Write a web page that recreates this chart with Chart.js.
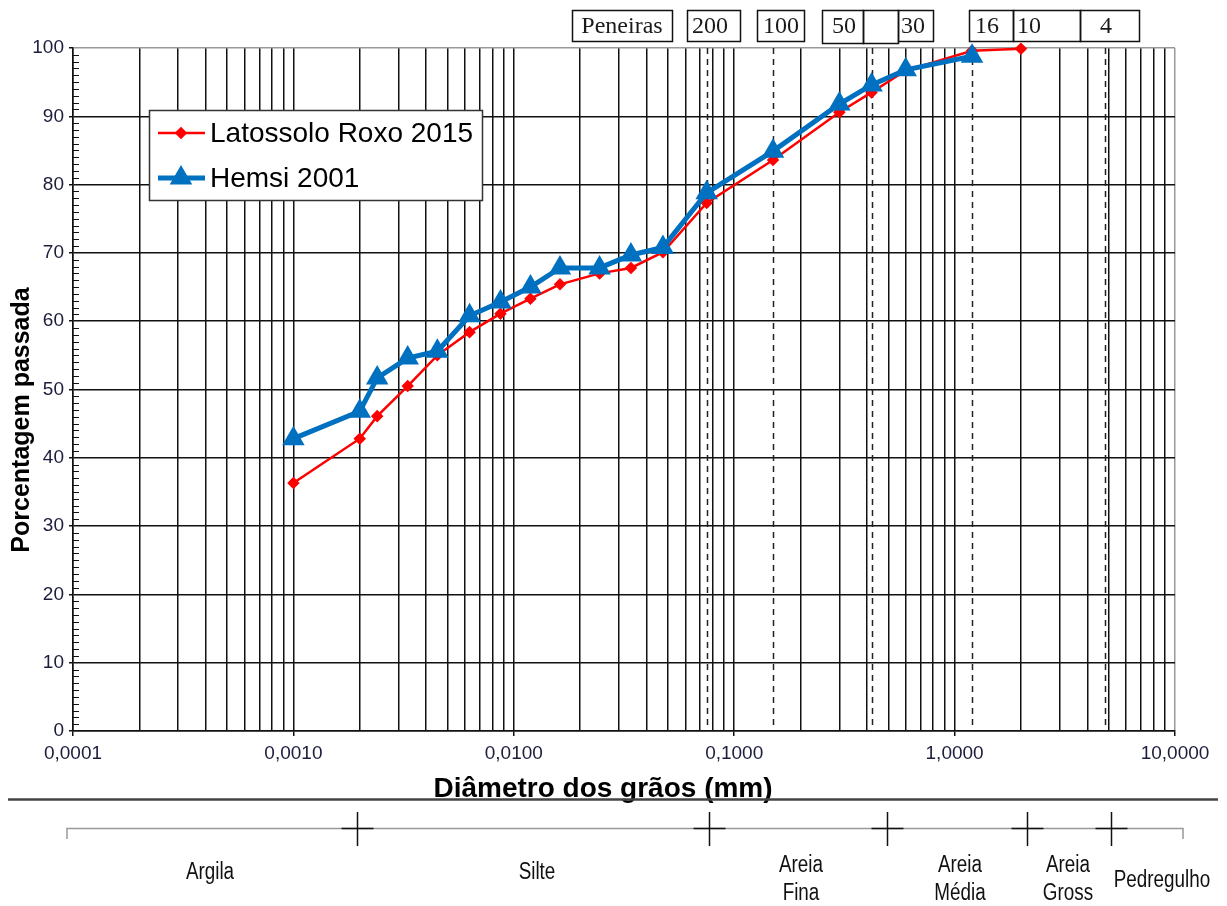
<!DOCTYPE html>
<html>
<head>
<meta charset="utf-8">
<title>Curva granulométrica</title>
<script src="https://cdn.jsdelivr.net/npm/chart.js@4.4.1/dist/chart.umd.min.js"></script>
<style>
  html, body { margin: 0; padding: 0; background: #fff; }
  #wrap { width: 1227px; height: 906px; }
</style>
</head>
<body>
<div id="wrap"><canvas id="chart" width="1227" height="906"></canvas></div>
<script>
/* Grain diameters (mm) of the measured points */
const diameters = [0.001, 0.002, 0.0024, 0.0033, 0.0045, 0.0063, 0.0087, 0.0119, 0.0162, 0.0245,
                   0.034, 0.0475, 0.075, 0.15, 0.3, 0.42, 0.6, 1.2, 2.0];

/* Percent passing for each soil */
const latossoloPassing = [36.3, 42.8, 46.1, 50.5, 55.0, 58.4, 61.1, 63.3, 65.4, 67.0,
                          67.8, 70.1, 77.3, 83.6, 90.6, 93.5, 96.7, 99.6, 99.9];
const hemsiPassing = [42.8, 46.8, 51.7, 54.6, 55.6, 60.8, 62.8, 65.0, 67.8, 67.8,
                      69.7, 70.8, 78.8, 84.9, 91.8, 94.6, 96.8, 98.8];
const seriesNames = ['Latossolo Roxo 2015', 'Hemsi 2001'];

/* Sieve header labels and the openings (mm) marked with dashed lines */
const sieveLabels = ['Peneiras', '200', '100', '50', '', '30', '16', '10', '4'];
const sieveOpenings = [0.075, 0.15, 0.42, 1.2, 4.8];

/* Soil classes under the chart and the limits (mm) between them */
const soilClasses = [['Argila'], ['Silte'], ['Areia', 'Fina'], ['Areia', 'Média'], ['Areia', 'Gross'], ['Pedregulho']];
const classLimits = [0.002, 0.075, 0.47, 2.0, 4.76];

const xTitle = 'Diâmetro dos grãos (mm)';
const yTitle = 'Porcentagem passada';

const RED = '#ff0000';
const BLUE = '#0070c0';
const GRID = '#111';

function isDecade(v) {
    const l = Math.log10(v);
    return Math.abs(l - Math.round(l)) < 1e-6;
}

/* header boxes: [left, right, text centre] */
const headerBoxes = [
    [572, 672, 622], [687, 740, 710], [757, 804, 781], [822, 863, 844], [863, 898, 0],
    [898, 933, 913], [969, 1013, 987], [1013, 1080, 1029], [1080, 1139, 1106]
];

/* Extra drawing: dashed sieve lines, minor ticks, legend, titles, soil scale */
const decor = {
    id: 'decor',
    beforeDatasetsDraw(chart) {
        const { ctx, chartArea: a, scales: { x, y } } = chart;
        ctx.save();
        ctx.strokeStyle = '#222';
        ctx.lineWidth = 1.5;
        ctx.setLineDash([6, 5]);
        sieveOpenings.forEach(v => {
            const px = Math.round(x.getPixelForValue(v)) + 0.5;
            ctx.beginPath();
            ctx.moveTo(px, a.top);
            ctx.lineTo(px, a.bottom);
            ctx.stroke();
        });
        ctx.setLineDash([]);
        ctx.lineWidth = 1;
        ctx.strokeStyle = GRID;
        for (let v = 1; v < 100; v++) {
            if (v % 10 === 0) continue;
            const py = Math.round(y.getPixelForValue(v)) + 0.5;
            ctx.beginPath();
            ctx.moveTo(a.left, py);
            ctx.lineTo(a.left + 6, py);
            ctx.stroke();
        }
        ctx.restore();
    },
    afterDraw(chart) {
        const { ctx } = chart;
        const ds = chart.data.datasets;
        ctx.save();

        // legend
        ctx.fillStyle = '#fff';
        ctx.fillRect(149, 110, 333, 90);
        ctx.strokeStyle = '#333';
        ctx.lineWidth = 1.5;
        ctx.strokeRect(149.5, 110.5, 333, 90);
        [133, 178].forEach((ly, i) => {
            const d = ds[i];
            ctx.strokeStyle = d.borderColor;
            ctx.lineWidth = d.borderWidth;
            ctx.beginPath();
            ctx.moveTo(158, ly);
            ctx.lineTo(205, ly);
            ctx.stroke();
            ctx.fillStyle = d.pointBackgroundColor;
            ctx.strokeStyle = d.pointBorderColor;
            Chart.helpers.drawPoint(ctx, { pointStyle: d.pointStyle, radius: d.pointRadius, rotation: 0, borderWidth: 1 }, 181, ly);
            ctx.fillStyle = '#000';
            ctx.font = '28px Arial, "Liberation Sans", sans-serif';
            ctx.textAlign = 'left';
            ctx.textBaseline = 'middle';
            ctx.fillText(d.label, 210, ly + 1);
        });

        // axis titles
        ctx.fillStyle = '#000';
        ctx.font = 'bold 28px Arial, "Liberation Sans", sans-serif';
        ctx.textAlign = 'center';
        ctx.textBaseline = 'middle';
        ctx.fillText(xTitle, 603, 789);
        ctx.save();
        ctx.translate(22, 420);
        ctx.rotate(-Math.PI / 2);
        ctx.font = 'bold 25px Arial, "Liberation Sans", sans-serif';
        ctx.fillText(yTitle, 0, 0);
        ctx.restore();

        // sieve header
        ctx.strokeStyle = '#111';
        ctx.lineWidth = 1.5;
        ctx.font = '24px "Liberation Serif", "Times New Roman", serif';
        headerBoxes.forEach((b, i) => {
            const bottom = (i === 3 || i === 4) ? 43 : 41;
            ctx.strokeRect(b[0] + 0.5, 10.5, b[1] - b[0], bottom - 10);
            if (sieveLabels[i]) {
                ctx.fillStyle = '#1a1a1a';
                ctx.fillText(sieveLabels[i], b[2], 27);
            }
        });

        // soil classification scale
        ctx.strokeStyle = '#444';
        ctx.lineWidth = 2.5;
        ctx.beginPath();
        ctx.moveTo(8, 799.5);
        ctx.lineTo(1218, 799.5);
        ctx.stroke();

        const bl = 67, br = 1183, by = 828.5;
        const bx = v => bl + (Math.log10(v) + 4) * (br - bl) / 5;
        ctx.strokeStyle = '#999';
        ctx.lineWidth = 1.5;
        ctx.beginPath();
        ctx.moveTo(bl, 839);
        ctx.lineTo(bl, by);
        ctx.lineTo(br, by);
        ctx.lineTo(br, 839);
        ctx.stroke();
        ctx.strokeStyle = '#111';
        classLimits.forEach(v => {
            const cx = Math.round(bx(v)) + 0.5;
            ctx.beginPath();
            ctx.moveTo(cx, 812);
            ctx.lineTo(cx, 846);
            ctx.moveTo(cx - 16, by);
            ctx.lineTo(cx + 16, by);
            ctx.stroke();
        });

        const centres = [210, 537, 801, 960, 1068, 1162];
        ctx.fillStyle = '#111';
        ctx.font = '23px Arial, "Liberation Sans", sans-serif';
        soilClasses.forEach((lines, i) => {
            const ys = lines.length === 2 ? [866, 894] : [i === 5 ? 881 : 873];
            lines.forEach((t, j) => {
                ctx.save();
                ctx.translate(centres[i], ys[j]);
                ctx.scale(0.82, 1);
                ctx.fillText(t, 0, 0);
                ctx.restore();
            });
        });

        ctx.restore();
    }
};

const tickFont = { family: 'Arial, "Liberation Sans", sans-serif', size: 19 };

new Chart(document.getElementById('chart'), {
    type: 'line',
    data: {
        datasets: [
            {
                label: seriesNames[0],
                data: diameters.map((d, i) => ({ x: d, y: latossoloPassing[i] })),
                borderColor: RED,
                borderWidth: 2.5,
                pointStyle: 'rectRot',
                pointRadius: 4.5,
                pointBackgroundColor: RED,
                pointBorderColor: RED,
                order: 2,
                clip: 12
            },
            {
                label: seriesNames[1],
                data: hemsiPassing.map((p, i) => ({ x: diameters[i], y: p })),
                borderColor: BLUE,
                borderWidth: 5,
                pointStyle: 'triangle',
                pointRadius: 8,
                pointBackgroundColor: BLUE,
                pointBorderColor: BLUE,
                order: 1,
                clip: 12
            }
        ]
    },
    options: {
        responsive: false,
        animation: false,
        devicePixelRatio: 1,
        events: [],
        layout: { padding: { top: 48, right: 52, bottom: 135, left: 0 } },
        plugins: { legend: { display: false }, tooltip: { enabled: false } },
        elements: { line: { tension: 0 } },
        scales: {
            x: {
                type: 'logarithmic',
                min: 0.0001,
                max: 10,
                afterBuildTicks: scale => {
                    const t = [];
                    for (let e = -4; e <= 0; e++) {
                        for (let k = 1; k <= 9; k++) t.push({ value: +(k * Math.pow(10, e)).toPrecision(6) });
                    }
                    t.push({ value: 10 });
                    scale.ticks = t;
                },
                afterFit: scale => { scale.height = 40; },
                ticks: {
                    autoSkip: false,
                    maxRotation: 0,
                    minRotation: 0,
                    padding: 6,
                    color: '#1c1c3c',
                    font: tickFont,
                    callback: v => isDecade(v) ? v.toFixed(4).replace('.', ',') : ''
                },
                grid: {
                    color: c => (c.tick && c.tick.value === 10) ? '#999' : GRID,
                    lineWidth: 1.5,
                    tickLength: 5,
                    tickColor: c => (c.tick && isDecade(c.tick.value)) ? GRID : 'rgba(0,0,0,0)'
                },
                border: { color: GRID, width: 1.5 }
            },
            y: {
                min: 0,
                max: 100,
                afterFit: scale => { scale.width = 73; },
                ticks: { stepSize: 10, padding: 5, color: '#1c1c3c', font: tickFont },
                grid: {
                    color: c => (c.tick && c.tick.value === 100) ? '#999' : GRID,
                    lineWidth: 1.5,
                    tickLength: 4,
                    tickColor: GRID
                },
                border: { color: GRID, width: 1.5 }
            }
        }
    },
    plugins: [decor]
});
</script>
</body>
</html>
